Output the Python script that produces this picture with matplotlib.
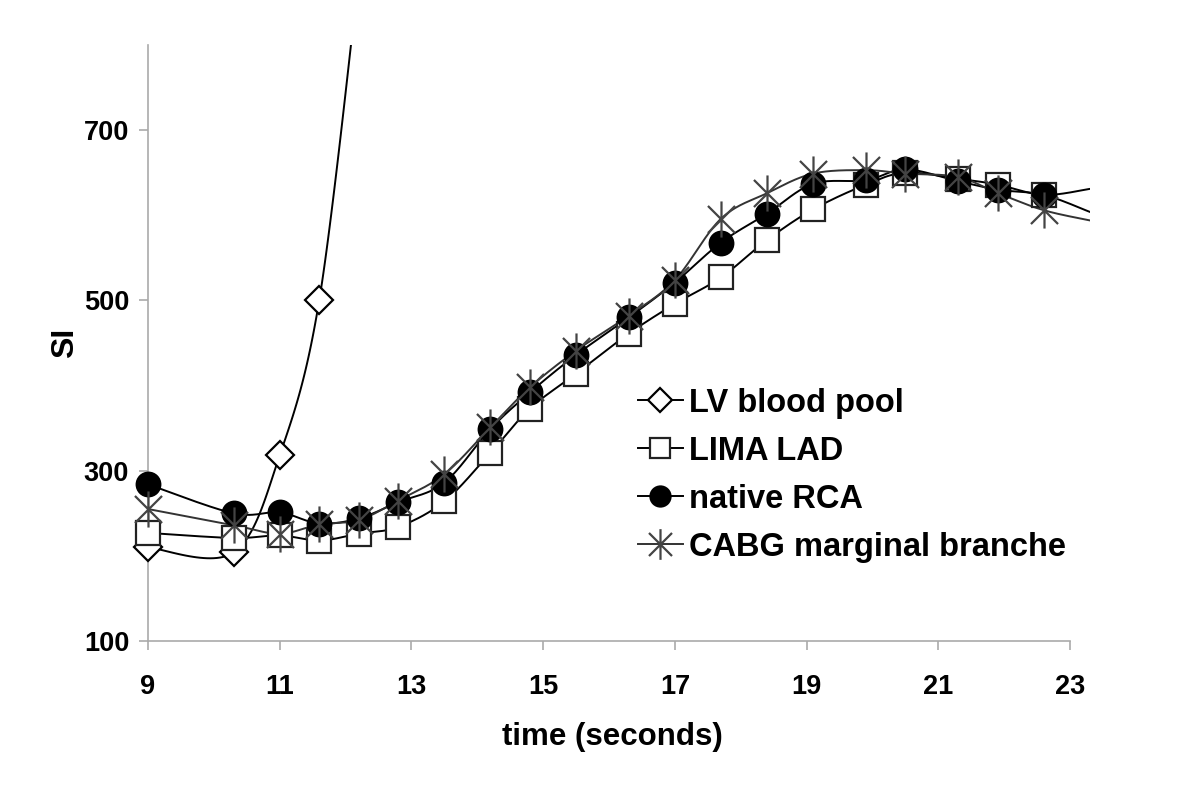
import numpy as np
import matplotlib
matplotlib.use("Agg")
import matplotlib.pyplot as plt
from matplotlib.path import Path
from matplotlib.lines import Line2D

plt.rcParams['font.family'] = ['Liberation Sans', 'DejaVu Sans']
plt.rcParams['font.weight'] = 'bold'

# data (time in seconds, signal intensity)
time = [9.0, 10.3, 11.0, 11.6, 12.2, 12.8, 13.5, 14.2, 14.8, 15.5, 16.3,
        17.0, 17.7, 18.4, 19.1, 19.9, 20.5, 21.3, 21.9, 22.6, 23.3]
lv_time = [9.0, 10.3, 11.0, 11.6, 12.2]
lv_blood_pool = [210, 204, 318, 500, 880]
lima_lad = [227, 221, 224, 218, 226, 234, 264, 321, 373, 414, 461,
            496, 527, 571, 607, 636, 650, 643, 636, 624, 631]
native_rca = [284, 250, 251, 238, 244, 263, 286, 349, 392, 436, 480,
              521, 568, 602, 637, 641, 654, 640, 630, 624, 604]
cabg_marginal = [255, 236, 226, 237, 242, 265, 296, 351, 398, 441, 482,
                 524, 596, 626, 649, 653, 649, 645, 626, 606, 594]


def smooth(x, y, n=30):
    # catmull-rom style curve like excel "smoothed line"
    p = np.column_stack([x, y]).astype(float)
    p = np.vstack([p[0], p, p[-1]])
    out = []
    for i in range(1, len(p) - 2):
        p0, p1, p2, p3 = p[i - 1], p[i], p[i + 1], p[i + 2]
        t = np.linspace(0, 1, n)[:, None]
        seg = 0.5 * ((2 * p1) + (-p0 + p2) * t + (2 * p0 - 5 * p1 + 4 * p2 - p3) * t ** 2
                     + (-p0 + 3 * p1 - 3 * p2 + p3) * t ** 3)
        out.append(seg)
    out = np.vstack(out)
    return out[:, 0], out[:, 1]


# star marker: vertical bar plus an X
star = Path([(0, -1), (0, 1), (-0.75, -0.75), (0.75, 0.75), (-0.75, 0.75), (0.75, -0.75)],
            [Path.MOVETO, Path.LINETO, Path.MOVETO, Path.LINETO, Path.MOVETO, Path.LINETO])

fig = plt.figure(figsize=(12, 7.94), dpi=100)
ax = fig.add_axes([0.1233, 0.1927, 0.7849, 0.7506])

series = [
    ("LV blood pool", lv_time, lv_blood_pool, dict(marker='D', ms=14, mfc='white', mec='black', color='black')),
    ("LIMA LAD", time, lima_lad, dict(marker='s', ms=17, mfc='white', mec='#222222', color='black')),
    ("native RCA", time, native_rca, dict(marker='o', ms=17, mfc='black', mec='black', color='black')),
    ("CABG marginal branche", time, cabg_marginal, dict(marker=star, ms=26, mfc='none', mec='#444444', color='#333333')),
]

handles = []
for label, xs, ys, st in series:
    sx, sy = smooth(xs, ys)
    ax.plot(sx, sy, color=st['color'], lw=1.4, zorder=2)
    xs = np.array(xs)
    ys = np.array(ys)
    keep = xs <= 23
    ax.plot(xs[keep], ys[keep], linestyle='none',
            marker=st['marker'], ms=st['ms'], mfc=st['mfc'], mec=st['mec'],
            mew=1.6, zorder=3, clip_on=False)
    handles.append(Line2D([], [], color=st['color'], lw=1.4, marker=st['marker'],
                          ms=st['ms'] * 0.85, mfc=st['mfc'], mec=st['mec'], mew=1.6))

ax.set_xlim(9, 23.3)
ax.set_ylim(100, 800)
ax.set_xticks([9, 11, 13, 15, 17, 19, 21, 23])
ax.set_yticks([100, 300, 500, 700])
ax.spines['top'].set_visible(False)
ax.spines['right'].set_visible(False)
ax.spines['bottom'].set_bounds(9, 23)
for s in ['left', 'bottom']:
    ax.spines[s].set_color('#aaaaaa')
    ax.spines[s].set_linewidth(1.2)
ax.tick_params(colors='#aaaaaa', length=6.5, width=1.2, labelcolor='black', labelsize=19.5, pad=7)
ax.tick_params(axis='x', pad=17)
for lab in ax.get_xticklabels() + ax.get_yticklabels():
    lab.set_fontweight('bold')

ax.set_xlabel("time (seconds)", fontsize=22.5, fontweight='bold', labelpad=16, x=0.4926)
ax.set_ylabel("SI", fontsize=23, fontweight='bold', labelpad=3)

ax.legend(handles, [s[0] for s in series], loc='upper left', bbox_to_anchor=(0.52, 0.425),
          frameon=False, fontsize=23.5, handlelength=1.38, handletextpad=0.2,
          labelspacing=0.52, borderpad=0, borderaxespad=0)

fig.savefig("out.png", dpi=100)
